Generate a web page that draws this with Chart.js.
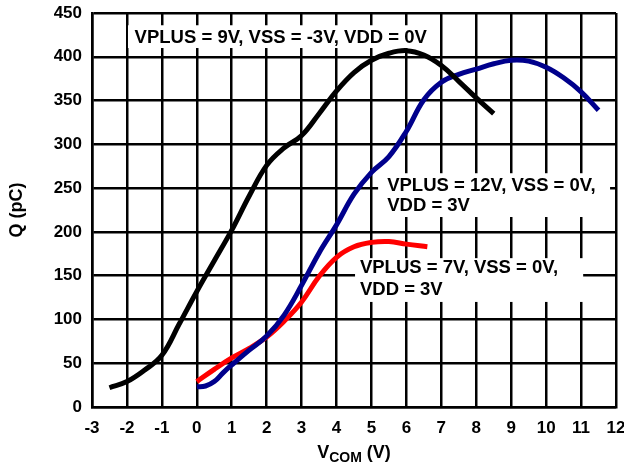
<!DOCTYPE html>
<html>
<head>
<meta charset="utf-8">
<script src="https://cdn.jsdelivr.net/npm/chart.js@4.4.1/dist/chart.umd.min.js"></script>
<style>
  html, body { margin: 0; padding: 0; background: #fff; }
  #wrap { width: 624px; height: 465px; }
</style>
</head>
<body>
<div id="wrap"><canvas id="grafica" width="624" height="465"></canvas></div>
<script>
// data
const vcomBlack = [-2.5, -2, -1.5, -1, -0.5, 0, 0.5, 1, 1.5, 2, 2.5, 3, 3.5, 4, 4.5, 5, 5.5, 6, 6.5, 7, 7.5, 8, 8.5];
const qBlack = [22, 29, 42, 59, 95, 132, 167, 202, 241, 276, 296, 310, 335, 361, 382, 396, 404, 407, 402, 390, 372, 353, 335];

const vcomBlue = [0, 0.25, 0.5, 0.75, 1, 1.5, 2, 2.5, 3, 3.5, 4, 4.5, 5, 5.5, 6, 6.5, 7, 7.5, 8, 8.5, 9, 9.5, 10, 10.5, 11, 11.5];
const qBlue = [23, 24, 29, 39, 48, 65, 81, 105, 139, 176, 208, 243, 268, 286, 315, 351, 371, 380, 386, 392, 396, 395, 388, 376, 360, 339];

const vcomRed = [0, 0.5, 1, 1.5, 2, 2.5, 3, 3.5, 4, 4.5, 5, 5.5, 6, 6.6];
const qRed = [29, 43, 56, 67, 80, 98, 120, 149, 171, 183, 188, 189, 186, 183];

const xTicks = [-3, -2, -1, 0, 1, 2, 3, 4, 5, 6, 7, 8, 9, 10, 11, 12];
const yTicks = [0, 50, 100, 150, 200, 250, 300, 350, 400, 450];

const notaNegra = ['VPLUS = 9V, VSS = -3V, VDD = 0V'];
const notaAzul = ['VPLUS = 12V, VSS = 0V,', 'VDD = 3V'];
const notaRoja = ['VPLUS = 7V, VSS = 0V,', 'VDD = 3V'];

const FUENTE = 'Liberation Sans, Arial, Helvetica, sans-serif';

function puntos(xs, ys) {
  return xs.map((x, i) => ({ x: x, y: ys[i] }));
}

// label boxes in data units: [x0, yTop, x1, yBottom], text x, line y's
const notas = [
  { lines: notaNegra, box: [-1.97, 436, 6.73, 410], tx: -1.78, ty: [422] },
  { lines: notaAzul, box: [5.19, 267, 11.83, 217], tx: 5.45, ty: [253, 230] },
  { lines: notaRoja, box: [4.53, 170, 11.06, 120], tx: 4.67, ty: [159, 134] }
];

const extras = {
  id: 'extras',
  beforeDatasetsDraw(chart) {
    const ctx = chart.ctx;
    const sx = chart.scales.x, sy = chart.scales.y;
    ctx.save();
    notas.forEach(n => {
      const x0 = sx.getPixelForValue(n.box[0]);
      const x1 = sx.getPixelForValue(n.box[2]);
      const y0 = sy.getPixelForValue(n.box[1]);
      const y1 = sy.getPixelForValue(n.box[3]);
      ctx.fillStyle = '#fff';
      ctx.fillRect(x0, y0, x1 - x0, y1 - y0);
      ctx.fillStyle = '#000';
      ctx.font = 'bold 18.5px ' + FUENTE;
      ctx.textBaseline = 'middle';
      ctx.textAlign = 'left';
      n.lines.forEach((t, i) => {
        ctx.fillText(t, sx.getPixelForValue(n.tx), sy.getPixelForValue(n.ty[i]));
      });
    });
    ctx.restore();
  },
  afterDraw(chart) {
    const ctx = chart.ctx;
    const a = chart.chartArea;
    ctx.save();
    ctx.fillStyle = '#000';
    // y title
    ctx.font = 'bold 18px ' + FUENTE;
    ctx.textAlign = 'center';
    ctx.textBaseline = 'middle';
    ctx.translate(17, (a.top + a.bottom) / 2);
    ctx.rotate(-Math.PI / 2);
    ctx.fillText('Q (pC)', 0, 0);
    ctx.restore();
    // x title with subscript
    ctx.save();
    ctx.fillStyle = '#000';
    ctx.textBaseline = 'alphabetic';
    ctx.textAlign = 'left';
    const f1 = 'bold 18px ' + FUENTE, f2 = 'bold 14px ' + FUENTE;
    ctx.font = f1; const wV = ctx.measureText('V').width; const wP = ctx.measureText(' (V)').width;
    ctx.font = f2; const wC = ctx.measureText('COM').width;
    let x = (a.left + a.right) / 2 - (wV + wC + wP) / 2;
    const base = 458;
    ctx.font = f1; ctx.fillText('V', x, base); x += wV;
    ctx.font = f2; ctx.fillText('COM', x, base + 4); x += wC;
    ctx.font = f1; ctx.fillText(' (V)', x, base);
    ctx.restore();
  }
};

const linea = (color) => ({
  borderColor: color,
  backgroundColor: color,
  borderWidth: 5,
  pointRadius: 0,
  showLine: true,
  fill: false,
  tension: 0.4,
  borderCapStyle: 'butt'
});

const grafica = new Chart(document.getElementById('grafica'), {
  type: 'scatter',
  data: {
    datasets: [
      Object.assign({ label: 'VPLUS = 9V', data: puntos(vcomBlack, qBlack) }, linea('#000000')),
      Object.assign({ label: 'VPLUS = 12V', data: puntos(vcomBlue, qBlue) }, linea('#00008c')),
      Object.assign({ label: 'VPLUS = 7V', data: puntos(vcomRed, qRed) }, linea('#ff0000'))
    ]
  },
  options: {
    responsive: false,
    animation: false,
    layout: { padding: { top: 13, right: 8, left: 0, bottom: 0 } },
    plugins: { legend: { display: false }, tooltip: { enabled: false } },
    scales: {
      x: {
        type: 'linear',
        min: -3, max: 12,
        afterBuildTicks: s => { s.ticks = xTicks.map(v => ({ value: v })); },
        afterFit: s => { s.height = 58; s.paddingLeft = 0; s.paddingRight = 0; },
        grid: { color: '#000', lineWidth: 2.5, drawTicks: false },
        border: { color: '#000', width: 2.5 },
        ticks: { color: '#000', padding: 11, maxRotation: 0, autoSkip: false, font: { family: FUENTE, size: 17, weight: 'bold' } }
      },
      y: {
        min: 0, max: 450,
        afterBuildTicks: s => { s.ticks = yTicks.map(v => ({ value: v })); },
        afterFit: s => { s.width = 92; s.paddingTop = 0; s.paddingBottom = 0; },
        grid: { color: '#000', lineWidth: 2.5, drawTicks: false },
        border: { color: '#000', width: 2.5 },
        ticks: { color: '#000', padding: 10, font: { family: FUENTE, size: 17, weight: 'bold' } }
      }
    }
  },
  plugins: [extras]
});
</script>
</body>
</html>
